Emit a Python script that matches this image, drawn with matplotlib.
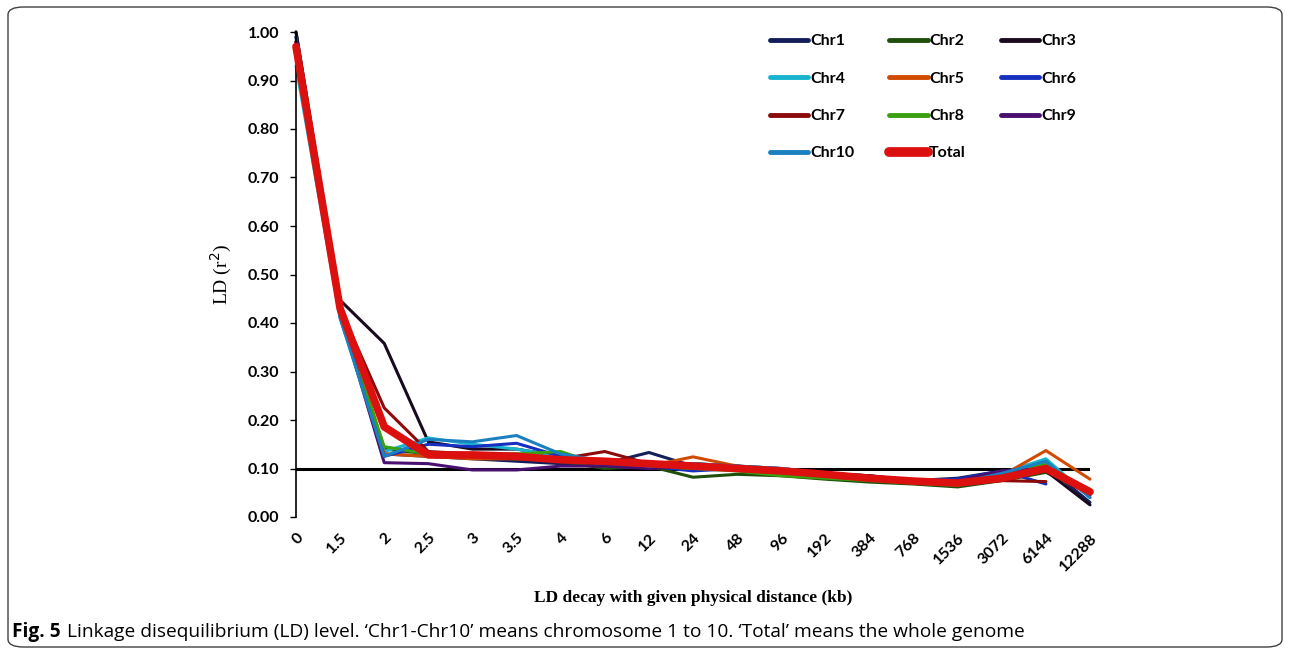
import numpy as np
import matplotlib
matplotlib.use('Agg')
import matplotlib.pyplot as plt
from matplotlib.patches import FancyBboxPatch

# %% data

distances = ['0', '1.5', '2', '2.5', '3', '3.5', '4', '6', '12', '24', '48', '96',
             '192', '384', '768', '1536', '3072', '6144', '12288']
nan = np.nan
chr1 = [1.00, 0.44, 0.13, 0.125, 0.12, 0.115, 0.11, 0.11, 0.133, 0.105, 0.105, 0.10, 0.09, 0.085, 0.075, 0.08, 0.095, 0.105, 0.03]
chr2 = [0.99, 0.43, 0.14, 0.13, 0.125, 0.12, 0.115, 0.10, 0.105, 0.082, 0.088, 0.085, 0.078, 0.072, 0.068, 0.062, 0.075, 0.092, 0.05]
chr3 = [1.00, 0.447, 0.358, 0.155, 0.14, 0.14, 0.125, 0.115, 0.11, 0.10, 0.10, 0.095, 0.09, 0.085, 0.075, 0.072, 0.08, 0.095, 0.025]
chr4 = [0.93, 0.41, 0.135, 0.163, 0.15, 0.14, 0.125, 0.115, 0.11, 0.11, 0.105, 0.10, 0.09, 0.08, 0.075, 0.07, 0.09, 0.12, 0.04]
chr5 = [0.98, 0.43, 0.13, 0.125, 0.12, 0.12, 0.12, 0.115, 0.105, 0.124, 0.105, 0.095, 0.085, 0.08, 0.075, 0.07, 0.085, 0.137, 0.078]
chr6 = [0.99, 0.42, 0.125, 0.15, 0.145, 0.152, 0.125, 0.11, 0.105, 0.095, 0.10, 0.095, 0.088, 0.08, 0.075, 0.078, 0.095, 0.068, nan]
chr7 = [0.98, 0.43, 0.225, 0.135, 0.13, 0.13, 0.12, 0.135, 0.11, 0.11, 0.105, 0.095, 0.085, 0.08, 0.072, 0.068, 0.075, 0.073, nan]
chr8 = [0.97, 0.42, 0.145, 0.13, 0.125, 0.13, 0.135, 0.105, 0.105, 0.10, 0.095, 0.085, 0.08, 0.075, 0.07, 0.065, 0.09, 0.11, 0.05]
chr9 = [0.98, 0.42, 0.112, 0.11, 0.097, 0.097, 0.105, 0.105, 0.10, 0.105, 0.10, 0.095, 0.09, 0.082, 0.075, 0.075, 0.095, 0.10, 0.045]
chr10 = [0.96, 0.41, 0.125, 0.16, 0.155, 0.168, 0.13, 0.115, 0.105, 0.11, 0.105, 0.10, 0.09, 0.08, 0.075, 0.07, 0.09, 0.115, 0.04]
total = [0.97, 0.43, 0.186, 0.128, 0.128, 0.125, 0.118, 0.115, 0.11, 0.105, 0.10, 0.095, 0.088, 0.08, 0.074, 0.07, 0.08, 0.10, 0.052]
threshold = 0.10

names = ['Chr1', 'Chr2', 'Chr3', 'Chr4', 'Chr5', 'Chr6', 'Chr7', 'Chr8', 'Chr9', 'Chr10', 'Total']
series = [chr1, chr2, chr3, chr4, chr5, chr6, chr7, chr8, chr9, chr10, total]
colors = ['#141e5a', '#1f4f0a', '#1a0a1f', '#18b4cf', '#d04a00', '#1530c0',
          '#8b0a0a', '#3aa010', '#4a1070', '#1a80c0', '#dd1010']

# %% figure

plt.rcParams['font.family'] = ['Lato', 'DejaVu Sans']
fig = plt.figure(figsize=(12.9, 6.51), dpi=100)

# rounded frame around figure + caption
fig.patches.append(FancyBboxPatch((8 / 1290, 4 / 651), 1274 / 1290, 640 / 651,
                                  boxstyle='round,pad=0,rounding_size=0.012',
                                  transform=fig.transFigure, fill=False,
                                  edgecolor='0.25', linewidth=1))

ax = fig.add_axes((296 / 1290, 1 - 517 / 651, 794 / 1290, 485 / 651))
x = np.arange(len(distances))

# 0.1 reference line
ax.plot([x[0], x[-1]], [threshold, threshold], color='black', linewidth=2.2, zorder=1)

handles = []
for name, vals, c in zip(names, series, colors):
    lw = 5.5 if name == 'Total' else 2.2
    h, = ax.plot(x, vals, color=c, linewidth=lw, label=name, clip_on=False,
                 solid_capstyle='round', zorder=3 if name == 'Total' else 2)
    handles.append(h)

ax.set_xlim(0, len(distances) - 1)
ax.set_ylim(0, 1.0)
ax.set_yticks(np.arange(0, 1.01, 0.1))
ax.set_yticklabels([f'{v:.2f}' for v in np.arange(0, 1.01, 0.1)],
                   fontsize=11.5, fontweight='bold')
ax.set_xticks(x)
ax.set_xticklabels(distances, rotation=45, ha='right', va='top',
                   rotation_mode='anchor', fontsize=11.5, fontweight='bold')
ax.tick_params(axis='y', length=4, width=1, pad=8)
ax.tick_params(axis='x', length=0, pad=10)
ax.spines['top'].set_visible(False)
ax.spines['right'].set_visible(False)
ax.spines['bottom'].set_visible(False)
ax.spines['left'].set_linewidth(1.2)

ax.set_ylabel('LD (r$^2$)', fontsize=14, labelpad=10)
ax.yaxis.label.set_family('Liberation Serif')
ax.set_xlabel('LD decay with given physical distance (kb)', fontsize=12.5,
              family='Liberation Serif', fontweight='bold', labelpad=12)

# legend in row-major order (matplotlib fills column-major)
order = [0, 3, 6, 9, 1, 4, 7, 10, 2, 5, 8]
leg = ax.legend([handles[i] for i in order], [names[i] for i in order],
                ncol=3, loc='upper left', bbox_to_anchor=(0.579, 1.025),
                frameon=False, handlelength=2.4, handletextpad=0.1,
                columnspacing=2.2, labelspacing=1.45,
                prop={'weight': 'bold', 'size': 11.5})
for line in leg.get_lines():
    line.set_linewidth(3.5)
leg.get_lines()[order.index(10)].set_linewidth(7)

# caption
fig.text(12 / 1290, 1 - 632 / 651, 'Fig. 5', fontsize=13.8, fontweight='bold',
         family='Open Sans', va='center', ha='left')
fig.text(67 / 1290, 1 - 632 / 651,
         "Linkage disequilibrium (LD) level. \u2018Chr1-Chr10\u2019 means chromosome 1 to 10. "
         "\u2018Total\u2019 means the whole genome",
         fontsize=13.8, family='Open Sans', va='center', ha='left')

fig.savefig('out.png', dpi=100)
